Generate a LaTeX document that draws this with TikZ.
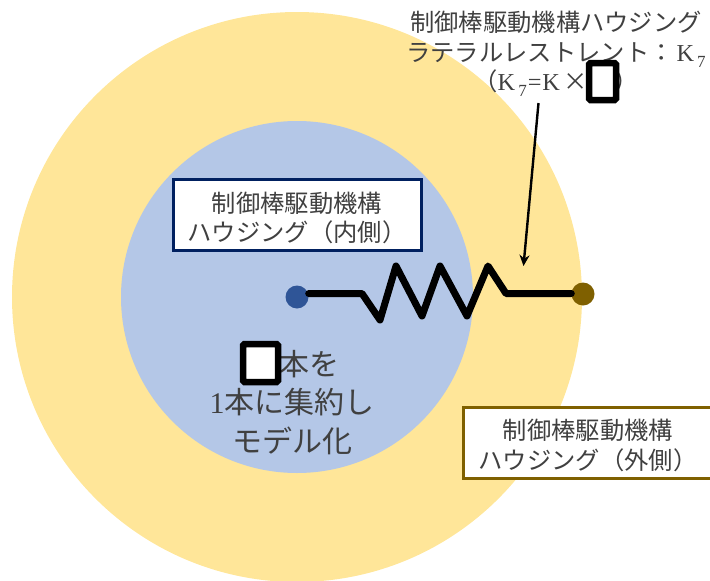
\documentclass[tikz,border=0pt]{standalone}
\usetikzlibrary{arrows.meta}
\usepackage{fontspec}
\setmainfont{Noto Sans CJK JP}
\newfontfamily\latinserif{Liberation Serif}
\definecolor{outerfill}{HTML}{FFE699}
\definecolor{innerfill}{HTML}{B4C7E7}
\definecolor{navyline}{HTML}{002060}
\definecolor{brownline}{HTML}{7F6000}
\definecolor{bluedot}{HTML}{2F5597}
\definecolor{inktext}{HTML}{404040}
\newcommand{\Ksub}{{\latinserif K\kern3pt\raisebox{-0.25em}{\fontsize{17}{17}\selectfont 7}}}
\newcommand{\boxstrut}{\rule{0pt}{26pt}}
\tikzset{
  disc/.style={circle,inner sep=0pt,minimum size=#1},
  labelbox/.style={draw,line width=3pt,fill=white,minimum width=248pt,minimum height=71pt,inner sep=0pt,align=center,text=inktext,font=\fontsize{24.3}{29.5}\selectfont},
  plaintext/.style={inner sep=0pt,align=center,text=inktext},
  hidebox/.style={draw=black,fill=white,rounded corners=1.5pt,line width=6.5pt,inner sep=0pt},
  springline/.style={line width=7pt,line join=round,line cap=round},
}
\begin{document}
\begin{tikzpicture}[x=1pt,y=-1pt]
\useasboundingbox (0,0) rectangle (710,581);
\node[disc=570pt,fill=outerfill] (outer) at (297,297) {};
\node[disc=352pt,fill=innerfill] (inner) at (297,297) {};
\node[labelbox,draw=navyline] (innerbox) at (297,215) {\boxstrut 制御棒駆動機構\\ハウジング（内側）};
\node[labelbox,draw=brownline,minimum width=250pt] (outerbox) at (588,442.5) {\boxstrut 制御棒駆動機構\\ハウジング（外側）};
\node[plaintext,font=\fontsize{24.3}{29.5}\selectfont] (toplabel) at (556,54) {制御棒駆動機構ハウジング\\ラテラルレストレント：\hspace*{3pt}\Ksub\\（\Ksub{\latinserif\kern1pt =\kern1pt K\kern3pt}×\hspace*{27pt}）};
\node[plaintext,font=\fontsize{30}{38.5}\selectfont] (midlabel) at (292,402.5) {\hspace*{34pt}本を\\{\latinserif 1}本に集約し\\モデル化};
\node[hidebox,minimum width=27pt,minimum height=37pt] (hidetop) at (602.5,81.5) {};
\node[hidebox,minimum width=35pt,minimum height=38pt] (hidemid) at (260.5,363) {};
\coordinate (arrowstart) at (538.5,103);
\coordinate (arrowend) at (523.5,266);
\draw[-{Stealth[length=11pt,width=10pt]},line width=2.4pt] (arrowstart) -- (arrowend);
\node[disc=23pt,fill=bluedot] (bluenode) at (297,297) {};
\node[disc=23pt,fill=brownline] (brownnode) at (583,294) {};
\draw[springline] (bluenode.east |- 0,293.5) -- (362,293.5) -- (380,320) -- (396,266) -- (422,316) -- (440,266) -- (467,316) -- (488,266) -- (506,293.5) -- (brownnode.west |- 0,293.5);
\end{tikzpicture}
\end{document}
